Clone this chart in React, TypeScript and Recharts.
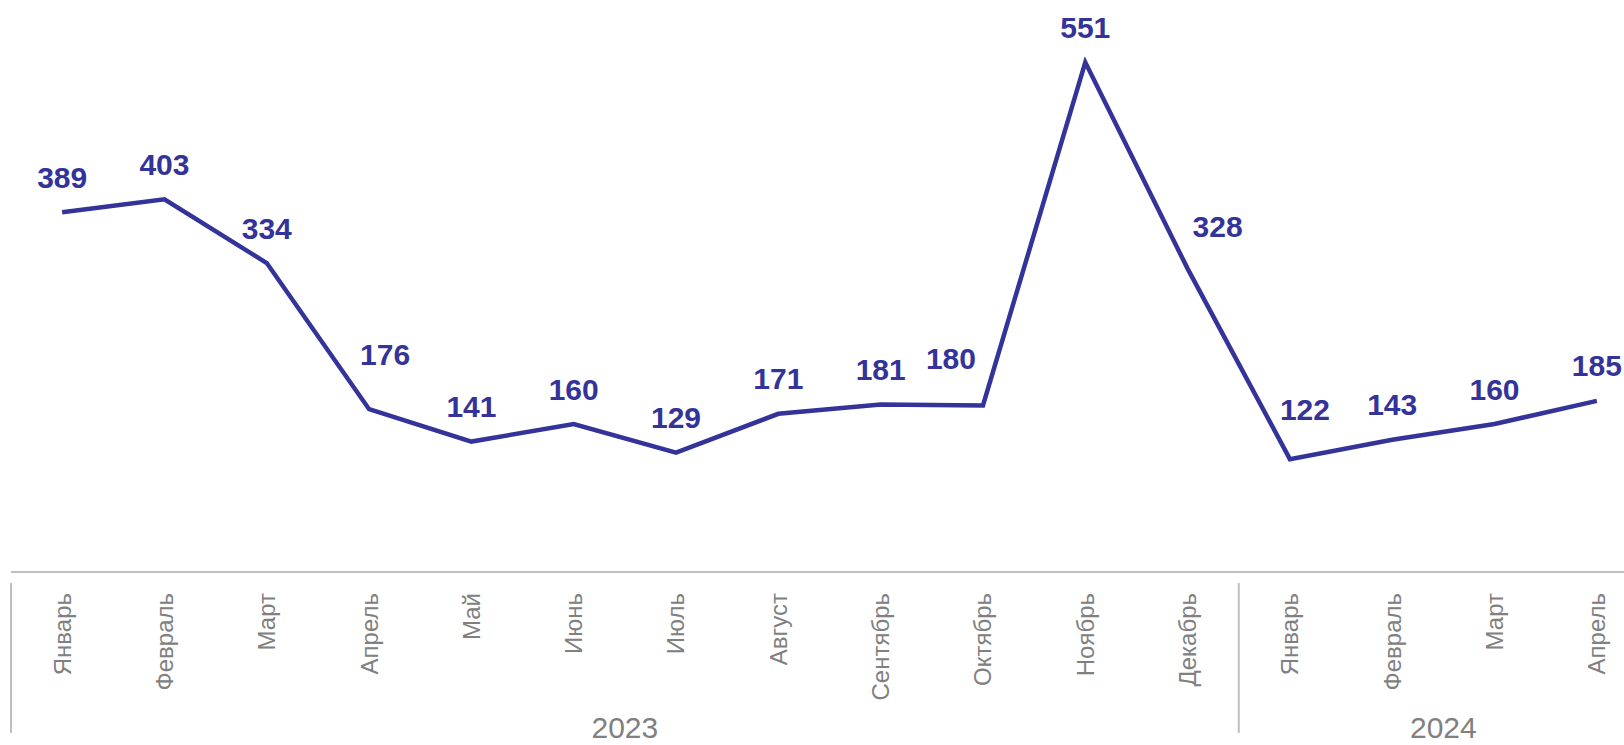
import { LineChart, Line, XAxis, YAxis, LabelList } from 'recharts';

const months = [
  'Январь', 'Февраль', 'Март', 'Апрель', 'Май', 'Июнь', 'Июль', 'Август',
  'Сентябрь', 'Октябрь', 'Ноябрь', 'Декабрь', 'Январь', 'Февраль', 'Март', 'Апрель',
];
const years = [
  '2023', '2023', '2023', '2023', '2023', '2023', '2023', '2023',
  '2023', '2023', '2023', '2023', '2024', '2024', '2024', '2024',
];
const values = [389, 403, 334, 176, 141, 160, 129, 171, 181, 180, 551, 328, 122, 143, 160, 185];

const data = months.map((m, i) => ({ key: `${years[i]}-${i}`, month: m, year: years[i], value: values[i] }));

const FONT = '"Liberation Sans", Arial, sans-serif';
const LINE = '#333399';
const GRAY = '#808080';
const RULE = '#bfbfbf';

// manual label nudges (like hand-placed Excel labels)
const nudge: Record<number, [number, number]> = {
  3: [16, -20],
  9: [-32, -12],
  11: [30, -7],
  12: [15, -15],
};

function MonthTick(props: any) {
  const { x, y, payload, index } = props;
  const half = payload?.offset || 1637 / 32;
  const yr = years[index];
  const first = index === 0 || years[index - 1] !== yr;
  const count = years.filter((v) => v === yr).length;
  const left = x - half;
  return (
    <g>
      <text
        transform={`translate(${x},${y + 21}) rotate(-90)`}
        textAnchor="end"
        dy="0.35em"
        fill={GRAY}
        fontSize={24}
        fontFamily={FONT}
      >
        {months[index]}
      </text>
      {first && (
        <>
          <line x1={left} x2={left} y1={y + 11} y2={y + 161} stroke={RULE} strokeWidth={2} />
          <text x={left + count * half} y={y + 166} textAnchor="middle" fill={GRAY} fontSize={30} fontFamily={FONT}>
            {yr}
          </text>
        </>
      )}
    </g>
  );
}

function ValueLabel(props: any) {
  const { x, y, value, index } = props;
  const [dx, dy] = nudge[index] ?? [0, 0];
  return (
    <text
      x={x + dx}
      y={y - 35 + dy}
      dy="0.35em"
      textAnchor="middle"
      fill={LINE}
      fontSize={30}
      fontWeight="bold"
      fontFamily={FONT}
    >
      {value}
    </text>
  );
}

export default function App() {
  return (
    <div style={{ position: 'absolute', left: 0, top: 0, width: 1624, height: 745, overflow: 'hidden', background: '#fff' }}>
      <LineChart width={1660} height={745} data={data} margin={{ top: 17, right: 12, left: 11, bottom: 0 }}>
        <XAxis
          dataKey="key"
          scale="band"
          height={173}
          interval={0}
          tickSize={0}
          tickMargin={0}
          tickLine={false}
          axisLine={{ stroke: RULE, strokeWidth: 2 }}
          tick={<MonthTick />}
        />
        <YAxis hide domain={[0, 600]} />
        <Line
          type="linear"
          dataKey="value"
          stroke={LINE}
          strokeWidth={4.5}
          dot={false}
          activeDot={false}
          isAnimationActive={false}
        >
          <LabelList dataKey="value" content={<ValueLabel />} />
        </Line>
      </LineChart>
    </div>
  );
}
